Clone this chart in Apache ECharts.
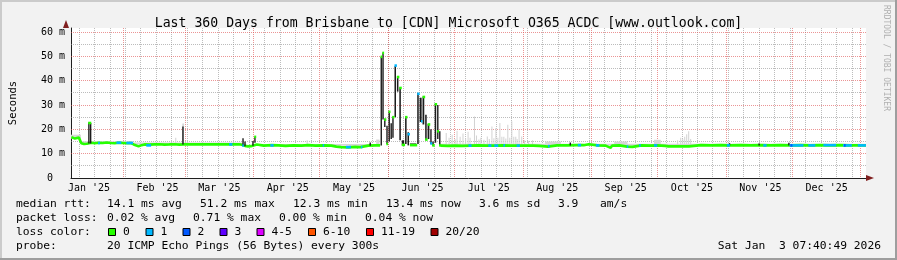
<!DOCTYPE html>
<html><head><meta charset="utf-8">
<script src="https://cdn.jsdelivr.net/npm/echarts@6/dist/echarts.min.js"></script>
<style>html,body{margin:0;padding:0;background:#f2f2f2}#c{width:897px;height:260px}</style>
</head><body><div id="c"></div>
<script>
// ---------- data (x = days since 2025-01-01 00:00 local, y = ms) ----------
const START = 7.32, END = 367.32;
const Y_MAX = 61.65;
const titleText = 'Last 360 Days from Brisbane to [CDN] Microsoft O365 ACDC [www.outlook.com]';
const monthStarts = [31, 59, 90, 120, 151, 181, 212, 243, 273, 304, 334, 365];
const monthLabelDays = [15.5, 46.5, 74.5, 105.5, 135.5, 166.5, 196.5, 227.5, 258.5, 288.5, 319.5, 349.5];
const monthLabels = ["Jan '25", "Feb '25", "Mar '25", "Apr '25", "May '25", "Jun '25", "Jul '25", "Aug '25", "Sep '25", "Oct '25", "Nov '25", "Dec '25"];
const weekDays = [11, 18, 25, 32, 39, 46, 53, 60, 67, 74, 81, 88, 95, 102, 109, 116, 123, 130, 137, 144, 151, 158, 165, 172, 179, 186, 193, 200, 207, 214, 221, 228, 235, 242, 249, 256, 263, 270, 277, 284, 291, 298, 305, 312, 319, 326, 333, 340, 347, 354, 361];
const yMinor = [5, 15, 25, 35, 45, 55];
const yMajor = [10, 20, 30, 40, 50, 60];
const yLabelValues = [0, 10, 20, 30, 40, 50, 60];

// median rtt [day, ms]
const median = [
 [7.5,16.8],[8.2,16.5],[9.1,16.2],[10.0,16.3],[10.9,16.6],[11.6,16.4],[12.0,14.3],[13.2,14.0],[14.5,14.1],[15.0,14.2],
 [16.5,14.5],[18.1,14.3],[19.9,14.5],[21.7,14.4],[23.5,14.6],[25.3,14.4],[27.1,14.3],[28.9,14.5],[30.7,14.4],[32.5,14.3],
 [34.3,14.4],[35.7,13.8],[36.6,13.2],[37.9,13.0],[39.3,13.5],[40.6,13.8],[42.9,13.7],[45.1,13.8],[47.4,13.9],[49.6,13.7],
 [51.9,13.8],[54.1,13.9],[56.4,13.7],[58.6,13.8],[60.9,13.9],[63.1,13.8],[65.4,13.9],[67.6,13.8],[69.9,13.9],[72.1,13.8],
 [74.4,13.9],[76.6,13.8],[78.9,13.9],[81.1,13.8],[83.4,13.9],[84.7,13.7],[85.4,13.3],[86.1,13.2],[87.5,13.0],[88.8,13.1],
 [89.7,13.6],[91.5,13.8],[92.4,13.4],[94.6,13.3],[95.5,13.3],[98.2,13.5],[101.4,13.4],[104.5,13.2],[108.1,13.4],[111.7,13.3],
 [114.9,13.5],[118.0,13.3],[121.6,13.4],[125.2,13.3],[127.5,12.9],[129.7,12.7],[132.9,12.6],[136.0,12.8],[138.3,12.7],[139.2,13.3],
 [141.9,13.3],[145.0,13.4],[147.3,13.4],[147.5,null],
 [174.7,13.3],[177.9,13.2],[181.0,13.3],[184.6,13.2],[188.2,13.3],[191.8,13.4],[195.4,13.3],[199.0,13.3],[202.6,13.4],[206.2,13.3],
 [209.8,13.3],[213.4,13.3],[216.6,13.3],[219.3,13.2],[219.9,12.9],[223.3,12.9],[224.0,13.3],[227.4,13.4],[231.9,13.4],[236.4,13.5],
 [239.5,13.5],[240.4,13.9],[241.8,13.9],[242.7,13.5],[245.8,13.4],[249.4,13.3],[250.1,12.5],[251.7,12.4],[252.3,13.3],[255.7,13.4],
 [259.1,12.9],[261.6,12.8],[262.2,13.3],[265.6,13.4],[269.2,13.3],[272.8,13.4],[276.4,13.2],[277.8,13.0],[281.4,13.0],[285.0,13.0],
 [287.2,13.0],[288.1,13.4],[292.6,13.5],[297.1,13.4],[301.6,13.5],[306.1,13.4],[310.6,13.5],[315.1,13.4],[319.6,13.5],[324.1,13.4],
 [328.6,13.5],[333.1,13.4],[337.6,13.5],[342.1,13.4],[346.6,13.5],[351.1,13.4],[355.6,13.5],[360.1,13.4],[364.6,13.4],[367.3,13.4]
];

// dense (dark) smoke spikes [dayFrom, dayTo, low, high]
const spikes = [
 [15.1,15.6,14.2,22.8],[15.9,16.5,14.2,22.6],[57.7,58.5,13.8,21.2],[84.9,85.7,13.3,16.3],[85.8,86.5,13.0,15.0],
 [89.4,90.1,13.3,15.2],[90.3,91.2,14.5,17.0],[142.5,142.9,13.3,14.6],
 [147.5,148.3,13.4,49.8],[148.3,149.1,24.0,51.6],[149.1,150.1,21.0,24.4],[150.1,150.9,14.0,21.5],[151.1,152.0,15.0,27.4],
 [152.0,152.8,16.0,22.5],[152.8,153.8,16.5,25.3],[153.8,154.9,25.0,46.0],[154.9,156.0,35.5,41.8],[156.0,157.1,15.5,37.3],
 [157.1,158.6,13.4,15.5],[158.6,159.7,14.0,25.3],[159.7,160.8,13.4,18.8],[160.8,164.1,13.3,14.2],[164.1,165.2,14.0,34.9],
 [165.2,166.5,23.0,33.0],[166.5,167.7,22.0,33.5],[167.7,168.8,15.5,26.0],[168.8,170.0,16.0,22.2],[170.0,170.9,14.0,20.0],
 [170.9,172.0,13.3,15.0],[172.0,173.1,14.5,30.5],[173.1,174.0,16.0,30.0],[174.0,174.9,13.4,19.2],
 [233.1,233.9,13.4,14.6],[305.2,305.6,13.4,14.3],[318.6,319.0,13.4,14.2],[332.1,332.5,13.4,14.5]
];

// loss-coloured median pieces [dayFrom, dayTo, ms, lossClass]
const lossSegs = [
 [15.1,16.5,22.6,0],[90.3,91.2,16.9,0],
 [147.5,148.3,49.8,0],[148.3,149.1,51.4,0],[149.1,150.1,24.0,0],[150.1,150.9,14.0,0],[151.1,152.0,27.2,0],
 [152.8,153.8,25.0,0],[153.8,154.9,46.2,1],[154.9,156.0,41.5,0],[156.0,157.1,37.0,0],[157.1,158.6,13.6,0],
 [158.6,159.7,25.0,0],[159.7,160.8,18.0,1],[160.8,164.1,13.5,0],[164.1,165.2,34.6,1],[165.8,166.5,23.3,1],
 [166.5,167.7,33.3,0],[167.7,168.8,15.8,0],[168.8,170.0,22.0,0],[170.0,170.9,14.2,1],[170.9,172.0,13.4,0],
 [172.0,173.1,30.3,0],[173.1,174.0,19.2,0],[174.0,174.9,13.4,0],
 [19.6,20.4,14.4,1],[27.9,30.1,14.5,1],[32.4,35.4,14.4,1],[41.4,43.6,13.4,1],[78.9,80.4,13.8,1],[84.9,85.4,13.3,1],
 [97.6,99.1,13.4,1],[121.3,121.8,13.4,1],[131.8,134.1,12.7,1],[138.6,139.1,12.7,1],[187.3,188.7,13.3,1],
 [196.3,197.7,13.3,1],[199.0,200.8,13.3,1],[203.1,203.9,13.4,1],[209.1,210.6,13.3,1],[223.3,224.1,13.1,1],
 [236.8,238.3,13.5,1],[245.0,246.6,13.4,1],[259.0,259.5,12.9,1],[264.6,265.1,13.4,1],[271.3,272.8,13.4,1],
 [304.3,305.7,13.4,1],[320.8,322.3,13.4,1],[332.7,339.0,13.4,1],[341.2,344.4,13.4,1],[348.0,353.8,13.5,1],
 [356.9,360.9,13.4,1],[363.6,367.3,13.4,1],[333.1,334.0,13.4,2],[357.4,357.9,13.4,2]
];

// light smoke bands [dayFrom, dayTo, low, high]
const smokeBands = [
 [7.32,11.8,16.2,17.8],[11.8,35.2,14.4,15.1],[35.2,57.7,13.7,14.6],[57.7,58.5,13.8,22.4],[54.5,55.0,13.8,16.5],
 [58.5,84.7,13.8,14.6],[92.4,147.3,13.3,14.0],[114.0,114.5,13.3,15.5],[145.5,147.0,13.3,15.8],
 [174.7,367.32,13.3,14.1],[222.0,229.2,13.3,15.0],[253.3,259.3,13.0,15.0],[271.3,274.4,13.4,15.7]
];
// light smoke single columns [day, high]
const SMOKE_BASE = 13.3;
const smokeCols = [
 [177.0,18.5],[178.3,16.5],[179.7,17.8],[181.0,16.0],[181.9,19.4],[183.3,17.0],[184.6,18.3],[185.8,16.2],[186.9,19.0],
 [187.8,16.5],[189.8,25.3],[190.7,17.5],[191.8,15.8],[192.7,16.5],[194.1,15.7],[195.6,17.1],[196.5,16.0],[197.7,21.2],
 [198.6,16.3],[199.5,20.5],[200.4,16.5],[201.3,22.6],[202.2,17.0],[203.1,17.0],[204.0,16.2],[204.9,21.9],[205.8,16.5],
 [206.7,23.3],[207.6,17.0],[208.5,17.0],[209.1,16.0],[210.0,19.9],[211.2,17.1],[212.5,15.5],[214.3,15.2],[216.1,15.5],
 [281.8,15.5],[283.2,16.5],[284.1,16.0],[285.0,17.0],[285.9,18.0],[286.8,19.2],[287.7,16.0]
];

// legend texts
const statRow1 = ['median rtt:', '14.1 ms avg', '51.2 ms max', '12.3 ms min', '13.4 ms now', '3.6 ms sd', '3.9', 'am/s'];
const statRow2 = ['packet loss:', '0.02 % avg', '0.71 % max', '0.00 % min', '0.04 % now'];
const lossNames = ['0', '1', '2', '3', '4-5', '6-10', '11-19', '20/20'];
const lossColors = ['#26ff00', '#00b8ff', '#0059ff', '#5e00ff', '#dd00ff', '#ff5500', '#ff0000', '#a00000'];
const probeText = ['probe:', '20 ICMP Echo Pings (56 Bytes) every 300s'];
const dateText = 'Sat Jan  3 07:40:49 2026';
const sideText = 'RRDTOOL / TOBI OETIKER';

// ---------- layout / style ----------
const FONT = '"DejaVu Sans Mono", monospace';
const row1X = [16, 107, 200, 293, 386, 479, 558, 600];
const row2X = [16, 107, 193, 279, 365];
const boxX = [108, 145.5, 182.5, 219.5, 256.5, 308, 366, 430.5];
const MINOR = 'rgba(143,143,143,0.6)';
const MAJOR = 'rgba(222,79,79,0.6)';
const GRID = {left: 66, top: 28, width: 800, height: 150};

const chart = echarts.init(document.getElementById('c'), null, {renderer: 'canvas', width: 897, height: 260});

const vGrid = weekDays.map(d => [d, 0]).concat(monthStarts.map(d => [d, 1]));
const hGrid = yMinor.map(v => [v, 0]).concat(yMajor.map(v => [v, 1]));

const graphics = [];
// border
graphics.push({type: 'rect', shape: {x: 0, y: 0, width: 897, height: 2}, style: {fill: '#cbcbcb'}, silent: true});
graphics.push({type: 'rect', shape: {x: 0, y: 0, width: 2, height: 260}, style: {fill: '#cbcbcb'}, silent: true});
graphics.push({type: 'rect', shape: {x: 0, y: 258, width: 897, height: 2}, style: {fill: '#9e9e9e'}, silent: true});
graphics.push({type: 'rect', shape: {x: 895, y: 0, width: 2, height: 260}, style: {fill: '#9e9e9e'}, silent: true});
const txt = (t, x, y, align) => ({type: 'text', x: x, y: y, silent: true,
  style: {text: t, font: '11.3px ' + FONT, fill: '#000', align: align || 'left', verticalAlign: 'middle'}});
statRow1.forEach((t, i) => graphics.push(txt(t, row1X[i], 204)));
statRow2.forEach((t, i) => graphics.push(txt(t, row2X[i], 218)));
graphics.push(txt('loss color:', 16, 232));
lossNames.forEach((t, i) => {
  graphics.push({type: 'rect', silent: true, shape: {x: boxX[i] + 0.5, y: 228.5, width: 7, height: 7},
    style: {fill: lossColors[i], stroke: '#000', lineWidth: 1}});
  graphics.push(txt(t, boxX[i] + 15, 232));
});
graphics.push(txt(probeText[0], 16, 246));
graphics.push(txt(probeText[1], 107, 246));
graphics.push(txt(dateText, 881, 246, 'right'));
graphics.push({type: 'text', x: 886.5, y: 5, rotation: -Math.PI / 2, silent: true,
  style: {text: sideText, font: '8px ' + FONT, fill: '#b0b0b0', align: 'left', verticalAlign: 'middle'}});

function rectItem(d0, d1, lo, hi, api, color, minW, shrink) {
  const p0 = api.coord([d0, hi]);
  const p1 = api.coord([d1, lo]);
  const w = Math.max(minW, p1[0] - p0[0] - (shrink || 0));
  return {type: 'rect', shape: {x: p0[0], y: p0[1], width: w, height: Math.max(1, p1[1] - p0[1])},
    style: {fill: color}};
}

const option = {
  backgroundColor: '#f2f2f2',
  animation: false,
  title: {text: titleText, left: 'center', top: 12,
    textStyle: {fontFamily: FONT, fontSize: 13.2, fontWeight: 'normal', color: '#000'}},
  grid: [
    Object.assign({show: true, backgroundColor: '#ffffff', borderWidth: 0}, GRID),
    Object.assign({show: false}, GRID)
  ],
  xAxis: [
    {type: 'value', gridIndex: 0, min: START, max: END,
      axisLine: {show: true, onZero: false, lineStyle: {color: '#1f1f1f', width: 1}},
      axisTick: {show: false}, splitLine: {show: false},
      axisLabel: {customValues: monthLabelDays, margin: 5, fontFamily: FONT, fontSize: 10, color: '#000',
        formatter: v => { const i = monthLabelDays.indexOf(v); return i >= 0 ? monthLabels[i] : ''; }}},
    {type: 'value', gridIndex: 1, min: START, max: END,
      axisLine: {show: true, onZero: false, symbol: ['none', 'triangle'], symbolSize: [6, 8], symbolOffset: [0, 4],
        lineStyle: {color: '#801f1f', width: 0}},
      axisTick: {show: false}, axisLabel: {show: false}, splitLine: {show: false}}
  ],
  yAxis: [
    {type: 'value', gridIndex: 0, min: 0, max: Y_MAX,
      name: 'Seconds', nameLocation: 'middle', nameGap: 52, nameRotate: 90,
      nameTextStyle: {fontFamily: FONT, fontSize: 10.5, color: '#000'},
      axisLine: {show: true, onZero: false, lineStyle: {color: '#1f1f1f', width: 1}},
      axisTick: {show: false}, splitLine: {show: false},
      axisLabel: {customValues: yLabelValues, margin: 6, fontFamily: FONT, fontSize: 10, color: '#000',
        formatter: v => v === 0 ? '0  ' : v + ' m'}},
    {type: 'value', gridIndex: 1, min: 0, max: Y_MAX,
      axisLine: {show: true, onZero: false, symbol: ['none', 'triangle'], symbolSize: [6, 8], symbolOffset: [0, 4],
        lineStyle: {color: '#801f1f', width: 0}},
      axisTick: {show: false}, axisLabel: {show: false}, splitLine: {show: false}}
  ],
  graphic: graphics,
  series: [
    {type: 'custom', name: 'vgrid', xAxisIndex: 0, yAxisIndex: 0, silent: true, z: 1, data: vGrid,
      renderItem: (params, api) => {
        const cs = params.coordSys;
        const x = Math.floor(api.coord([api.value(0), 0])[0]) + 0.5;
        return {type: 'line', shape: {x1: x, y1: cs.y, x2: x, y2: cs.y + cs.height},
          style: {stroke: api.value(1) ? MAJOR : MINOR, lineWidth: 1, lineDash: [1, 1]}};
      }},
    {type: 'custom', name: 'hgrid', xAxisIndex: 0, yAxisIndex: 0, silent: true, z: 1, data: hGrid,
      encode: {x: -1, y: 0},
      renderItem: (params, api) => {
        const cs = params.coordSys;
        const y = Math.floor(api.coord([START, api.value(0)])[1]) + 0.5;
        return {type: 'line', shape: {x1: cs.x, y1: y, x2: cs.x + cs.width, y2: y},
          style: {stroke: api.value(1) ? MAJOR : MINOR, lineWidth: 1, lineDash: [1, 1]}};
      }},
    {type: 'custom', name: 'smoke', xAxisIndex: 0, yAxisIndex: 0, silent: true, z: 2, data: smokeBands,
      encode: {x: [0, 1], y: [2, 3]},
      renderItem: (params, api) => rectItem(api.value(0), api.value(1), api.value(2), api.value(3), api, '#d6d6d6', 1)},
    {type: 'custom', name: 'smokeCols', xAxisIndex: 0, yAxisIndex: 0, silent: true, z: 2, data: smokeCols,
      encode: {x: 0, y: 1},
      renderItem: (params, api) => rectItem(api.value(0), api.value(0) + 0.45, SMOKE_BASE, api.value(1), api, '#d2d2d2', 1)},
    {type: 'line', name: 'median', xAxisIndex: 0, yAxisIndex: 0, z: 3, data: median, showSymbol: false,
      connectNulls: false, silent: true, lineStyle: {color: lossColors[0], width: 2.6}},
    {type: 'custom', name: 'spikes', xAxisIndex: 0, yAxisIndex: 0, silent: true, z: 4, data: spikes,
      encode: {x: [0, 1], y: [2, 3]},
      renderItem: (params, api) => rectItem(api.value(0), api.value(1), api.value(2), api.value(3), api, '#1c1c1c', 1.4, 0.9)},
    {type: 'custom', name: 'loss', xAxisIndex: 0, yAxisIndex: 0, silent: true, z: 5, data: lossSegs,
      encode: {x: [0, 1], y: 2},
      renderItem: (params, api) => {
        const p0 = api.coord([api.value(0), api.value(2)]);
        const p1 = api.coord([api.value(1), api.value(2)]);
        return {type: 'rect', shape: {x: p0[0], y: p0[1] - 1.3, width: Math.max(1.5, p1[0] - p0[0]), height: 2.6},
          style: {fill: lossColors[api.value(3)]}};
      }}
  ]
};
chart.setOption(option);
</script>
</body></html>
